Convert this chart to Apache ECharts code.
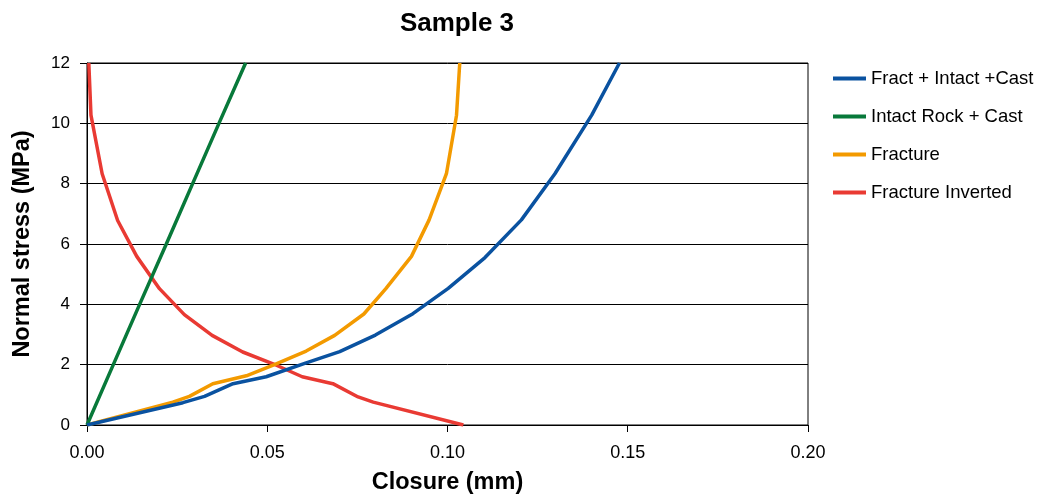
<!DOCTYPE html>
<html>
<head>
<meta charset="utf-8">
<script src="https://cdn.jsdelivr.net/npm/echarts@6/dist/echarts.min.js"></script>
<style>
  html, body { margin: 0; padding: 0; background: #fff; }
  #chart { width: 1037px; height: 497px; }
</style>
</head>
<body>
<div id="chart"></div>
<script>
// Normal stress vs. closure, Sample 3
const xTicks = [0, 0.05, 0.10, 0.15, 0.20];
const yTicks = [0, 2, 4, 6, 8, 10, 12];

const seriesNames = ['Fract + Intact +Cast', 'Intact Rock + Cast', 'Fracture', 'Fracture Inverted'];

// closure (mm), stress (MPa)
const fractIntactCastClosure = [0, 0.0266, 0.0326, 0.0405, 0.0497, 0.0606, 0.0701, 0.0800, 0.0904, 0.1002, 0.1104, 0.1205, 0.1298, 0.1400, 0.1477];
const fractIntactCastStress  = [0, 0.74, 0.95, 1.37, 1.60, 2.05, 2.43, 2.98, 3.69, 4.53, 5.55, 6.80, 8.33, 10.27, 12];

const intactCastClosure = [0, 0.0073, 0.0146, 0.0220, 0.0293, 0.0366, 0.0440];
const intactCastStress  = [0, 2, 4, 6, 8, 10, 12];

const fractureClosure = [0, 0.0238, 0.0284, 0.0349, 0.0442, 0.0520, 0.0608, 0.0687, 0.0768, 0.0829, 0.0900, 0.0949, 0.0997, 0.1025, 0.1034];
const fractureStress  = [0, 0.76, 0.95, 1.37, 1.63, 2.00, 2.45, 2.97, 3.68, 4.52, 5.59, 6.80, 8.33, 10.27, 12];

const invertedClosure = [0.1044, 0.0794, 0.0752, 0.0682, 0.0597, 0.0516, 0.0432, 0.0347, 0.0270, 0.0201, 0.0138, 0.0085, 0.0042, 0.0011, 0.0005];
const invertedStress  = [0, 0.76, 0.93, 1.37, 1.60, 2.03, 2.42, 2.97, 3.66, 4.52, 5.59, 6.78, 8.33, 10.27, 12];

const colors = ['#0a52a0', '#08793a', '#f39a00', '#e93a33'];

function pairs(xs, ys) { return xs.map((x, i) => [x, ys[i]]); }

const seriesData = [
  pairs(fractIntactCastClosure, fractIntactCastStress),
  pairs(intactCastClosure, intactCastStress),
  pairs(fractureClosure, fractureStress),
  pairs(invertedClosure, invertedStress)
];

const font = '"Liberation Sans", Arial, sans-serif';
const chart = echarts.init(document.getElementById('chart'), null, { renderer: 'canvas' });

chart.setOption({
  animation: false,
  color: colors,
  title: {
    text: 'Sample 3',
    left: 452,
    textAlign: 'center',
    top: 6,
    textStyle: { fontFamily: font, fontSize: 26, fontWeight: 'bold', color: '#000' }
  },
  legend: {
    orient: 'vertical',
    left: 828,
    top: 64,
    itemWidth: 33,
    itemHeight: 4,
    itemGap: 19,
    icon: 'rect',
    data: seriesNames,
    textStyle: { fontFamily: font, fontSize: 18.5, color: '#000' }
  },
  grid: {
    left: 87,
    right: 229,
    top: 63,
    bottom: 72,
    outerBoundsMode: 'none',
    containLabel: false,
    show: true,
    borderColor: '#000',
    borderWidth: 1,
    backgroundColor: 'transparent'
  },
  xAxis: {
    type: 'value',
    min: xTicks[0],
    max: xTicks[xTicks.length - 1],
    interval: 0.05,
    name: 'Closure (mm)',
    nameLocation: 'middle',
    nameGap: 46,
    nameTextStyle: { fontFamily: font, fontSize: 23.5, fontWeight: 'bold', color: '#000' },
    axisLine: { show: true, lineStyle: { color: '#000', width: 1 } },
    axisTick: { show: true, length: 7, lineStyle: { color: '#000' } },
    axisLabel: {
      fontFamily: font, fontSize: 18, color: '#000', margin: 19,
      formatter: v => v.toFixed(2)
    },
    splitLine: { show: false }
  },
  yAxis: {
    type: 'value',
    min: yTicks[0],
    max: yTicks[yTicks.length - 1],
    interval: 2,
    name: 'Normal stress (MPa)',
    nameLocation: 'middle',
    nameGap: 52,
    nameTextStyle: { fontFamily: font, fontSize: 23.5, fontWeight: 'bold', color: '#000' },
    axisLine: { show: true, lineStyle: { color: '#000', width: 1 } },
    axisTick: { show: true, length: 7, lineStyle: { color: '#000' } },
    axisLabel: { fontFamily: font, fontSize: 17, color: '#000', margin: 17 },
    splitLine: { show: true, lineStyle: { color: '#000', width: 1 } }
  },
  series: seriesNames.map((name, i) => ({
    name: name,
    type: 'line',
    data: seriesData[i],
    showSymbol: false,
    symbol: 'none',
    lineStyle: { width: 3.5, color: colors[i] },
    itemStyle: { color: colors[i] },
    z: 10 - i
  }))
});
</script>
</body>
</html>
